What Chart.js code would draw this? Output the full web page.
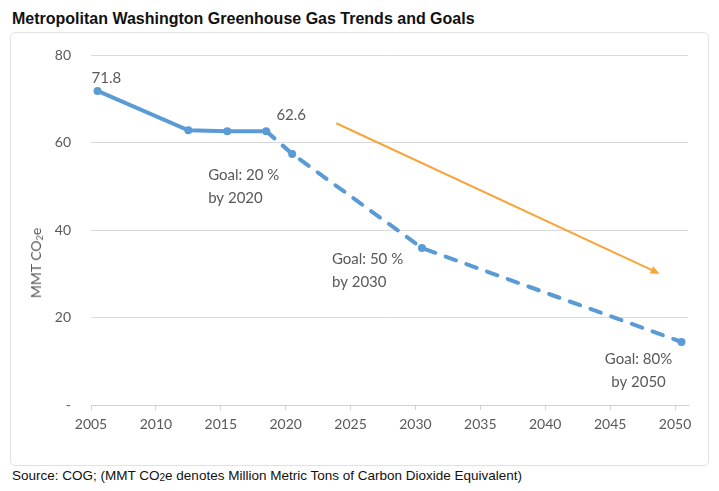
<!DOCTYPE html>
<html>
<head>
<meta charset="utf-8">
<script src="https://cdn.jsdelivr.net/npm/chart.js@4/dist/chart.umd.min.js"></script>
<style>
  body { margin: 0; background: #fff; }
  .page { position: relative; width: 719px; height: 491px; overflow: hidden; }
  .title { position: absolute; left: 12px; top: 10px; font: bold 16px "Liberation Sans Narrow", "Liberation Sans", Arial, sans-serif; color: #111; }
  .frame { position: absolute; left: 10px; top: 32px; width: 697px; height: 432px; border: 1px solid #e2e2e2; border-radius: 5px; }
  .frame canvas { position: absolute; left: 0; top: 0; }
  .ytitle { position: absolute; left: 25px; top: 230px; transform: translate(-50%, -50%) rotate(-90deg); font: 14px Lato, sans-serif; color: #595959; white-space: nowrap; }
  .ytitle sub { font-size: 9px; vertical-align: -2px; }
  .source { position: absolute; left: 12px; top: 468px; font: 13.5px "Liberation Sans Narrow", "Liberation Sans", Arial, sans-serif; color: #111; }
  .source sub { font-size: 10px; vertical-align: -1px; }
</style>
</head>
<body>
<div class="page">
  <div class="title">Metropolitan Washington Greenhouse Gas Trends and Goals</div>
  <div class="frame">
    <canvas id="ghg" width="697" height="432"></canvas>
    <div class="ytitle">MMT CO<sub>2</sub>e</div>
  </div>
  <div class="source">Source: COG; (MMT CO<sub>2</sub>e denotes Million Metric Tons of Carbon Dioxide Equivalent)</div>
</div>
<script>
// inventory years and values (MMT CO2e)
const trendYears = [2005, 2012, 2015, 2018];
const trendValues = [71.8, 62.8, 62.6, 62.6];

// goal path, starting at last inventory
const goalYears = [2018, 2020, 2030, 2050];
const goalValues = [62.6, 57.4, 35.9, 14.4];
const goalText = [null, ['Goal: 20 %', 'by 2020'], ['Goal: 50 %', 'by 2030'], ['Goal: 80%', 'by 2050']];

// orange trend arrow
const arrowYears = [2023.4, 2048.1];
const arrowValues = [64.4, 30.3];

const xTickLabels = [2005, 2010, 2015, 2020, 2025, 2030, 2035, 2040, 2045, 2050];
const yTickLabels = [0, 20, 40, 60, 80];

const blue = '#5b9bd5';
const orange = '#f9a43a';
const grey = '#595959';

const toPts = (xs, ys) => xs.map((x, i) => ({ x: x, y: ys[i] }));

const labelPlugin = {
  id: 'labels',
  afterDatasetsDraw(chart) {
    const {ctx, scales: {x, y}} = chart;
    ctx.save();
    ctx.fillStyle = grey;
    ctx.font = '15px Lato, sans-serif';
    ctx.textBaseline = 'middle';

    // value labels on first and last inventory point
    let px = x.getPixelForValue(trendYears[0]), py = y.getPixelForValue(trendValues[0]);
    ctx.textAlign = 'left';
    ctx.fillText(trendValues[0].toFixed(1), px - 6, py - 13);
    const n = trendYears.length - 1;
    px = x.getPixelForValue(trendYears[n]); py = y.getPixelForValue(trendValues[n]);
    ctx.textAlign = 'center';
    ctx.fillText(trendValues[n].toFixed(1), px + 25, py - 16);

    // goal labels
    const offs = [null, [-84, 21, 'left'], [-90, 11, 'left'], [-43, 17, 'center']];
    goalText.forEach((lines, i) => {
      if (!lines) return;
      const gx = x.getPixelForValue(goalYears[i]) + offs[i][0];
      const gy = y.getPixelForValue(goalValues[i]) + offs[i][1];
      ctx.textAlign = offs[i][2];
      lines.forEach((t, k) => ctx.fillText(t, gx, gy + k * 23));
    });

    // arrow head
    const ax0 = x.getPixelForValue(arrowYears[0]), ay0 = y.getPixelForValue(arrowValues[0]);
    const ax1 = x.getPixelForValue(arrowYears[1]), ay1 = y.getPixelForValue(arrowValues[1]);
    const ang = Math.atan2(ay1 - ay0, ax1 - ax0);
    ctx.fillStyle = orange;
    ctx.beginPath();
    ctx.moveTo(ax1 + 3 * Math.cos(ang), ay1 + 3 * Math.sin(ang));
    ctx.lineTo(ax1 - 6 * Math.cos(ang) - 4 * Math.sin(ang), ay1 - 6 * Math.sin(ang) + 4 * Math.cos(ang));
    ctx.lineTo(ax1 - 6 * Math.cos(ang) + 4 * Math.sin(ang), ay1 - 6 * Math.sin(ang) - 4 * Math.cos(ang));
    ctx.closePath();
    ctx.fill();
    ctx.restore();
  }
};

new Chart(document.getElementById('ghg'), {
  type: 'line',
  data: {
    datasets: [
      {
        data: toPts(arrowYears, arrowValues),
        borderColor: orange, borderWidth: 2, pointRadius: 0
      },
      {
        data: toPts(goalYears, goalValues),
        borderColor: blue, backgroundColor: blue, borderWidth: 4,
        borderDash: [11, 11], borderCapStyle: 'round',
        pointRadius: [0, 4, 4, 4], pointBorderWidth: 0
      },
      {
        data: toPts(trendYears, trendValues),
        borderColor: blue, backgroundColor: blue, borderWidth: 4,
        borderCapStyle: 'round', pointRadius: 4, pointBorderWidth: 0
      }
    ]
  },
  options: {
    responsive: false,
    animation: false,
    layout: { padding: { top: 22, right: 20, left: 0, bottom: 0 } },
    plugins: { legend: { display: false }, tooltip: { enabled: false } },
    scales: {
      x: {
        type: 'linear', min: 2004.5, max: 2050.5,
        afterBuildTicks: s => { s.ticks = xTickLabels.map(v => ({ value: v - 0.5 })); },
        afterFit: s => { s.height = 60; },
        ticks: {
          color: grey, font: { family: 'Lato', size: 14 }, padding: 6,
          callback: v => Math.round(v + 0.5)
        },
        grid: { drawOnChartArea: false, drawTicks: true, tickLength: 5, color: '#d0d0d0' },
        border: { color: '#d0d0d0' }
      },
      y: {
        min: 0, max: 80,
        afterBuildTicks: s => { s.ticks = yTickLabels.map(v => ({ value: v })); },
        afterFit: s => { s.width = 80; },
        ticks: {
          color: grey, font: { family: 'Lato', size: 14 }, padding: 4,
          callback: v => v === 0 ? '-' : v
        },
        grid: { color: '#d9d9d9', drawTicks: true, tickLength: 16, tickColor: 'rgba(0,0,0,0)' },
        border: { display: false }
      }
    }
  },
  plugins: [labelPlugin]
});
</script>
</body>
</html>
